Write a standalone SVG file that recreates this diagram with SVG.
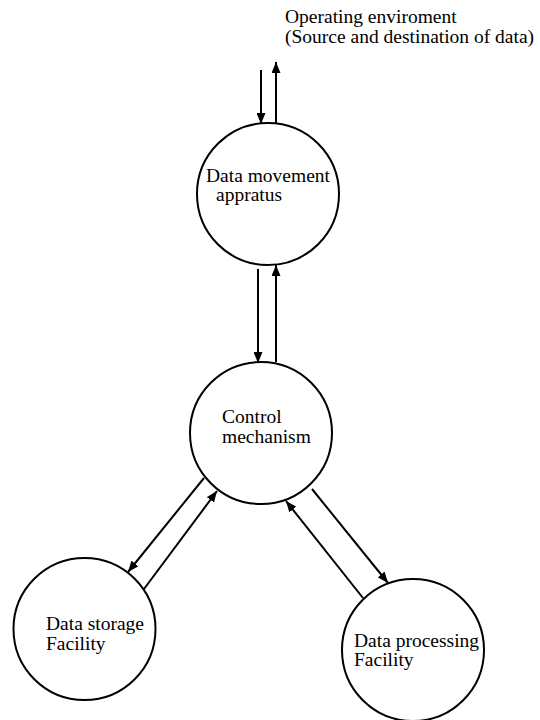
<svg xmlns="http://www.w3.org/2000/svg" width="540" height="720" viewBox="0 0 540 720">
  <style>
    .node { fill: #fff; stroke: #000; stroke-width: 2; }
    .lbl { font-family: "Liberation Serif", "Times New Roman", serif; font-size: 19.5px; fill: #000; }
    .flow { stroke: #000; stroke-width: 2; fill: none; marker-end: url(#head); }
  </style>
  <defs>
    <marker id="head" markerUnits="userSpaceOnUse" markerWidth="11" markerHeight="9" refX="11" refY="4.5" orient="auto">
      <path d="M0,0 L11,4.5 L0,9 z" fill="#000"/>
    </marker>
  </defs>
  <rect width="540" height="720" fill="#fff"/>

  <g id="environment">
    <text class="lbl" x="285" y="23">Operating enviroment</text>
    <text class="lbl" x="285" y="43">(Source and destination of data)</text>
  </g>

  <g id="connectors">
    <line class="flow" x1="261" y1="70" x2="261" y2="124"/>
    <line class="flow" x1="276" y1="125" x2="276" y2="62"/>
    <line class="flow" x1="258" y1="269" x2="258" y2="363"/>
    <line class="flow" x1="276" y1="362" x2="276" y2="265"/>
    <line class="flow" x1="204" y1="478" x2="128" y2="572"/>
    <line class="flow" x1="144" y1="589" x2="217" y2="491"/>
    <line class="flow" x1="312" y1="489" x2="388" y2="583"/>
    <line class="flow" x1="363" y1="598" x2="286" y2="501"/>
  </g>

  <g id="data-movement">
    <circle class="node" cx="268" cy="194" r="71"/>
    <text class="lbl" x="206" y="182">Data movement</text>
    <text class="lbl" x="216" y="201">appratus</text>
  </g>

  <g id="control">
    <circle class="node" cx="261" cy="433" r="71"/>
    <text class="lbl" x="222" y="423">Control</text>
    <text class="lbl" x="222" y="443">mechanism</text>
  </g>

  <g id="data-storage">
    <circle class="node" cx="84.5" cy="629" r="71"/>
    <text class="lbl" x="46" y="630">Data storage</text>
    <text class="lbl" x="46" y="650">Facility</text>
  </g>

  <g id="data-processing">
    <circle class="node" cx="413" cy="650" r="71"/>
    <text class="lbl" x="354" y="647">Data processing</text>
    <text class="lbl" x="354" y="666">Facility</text>
  </g>
</svg>
